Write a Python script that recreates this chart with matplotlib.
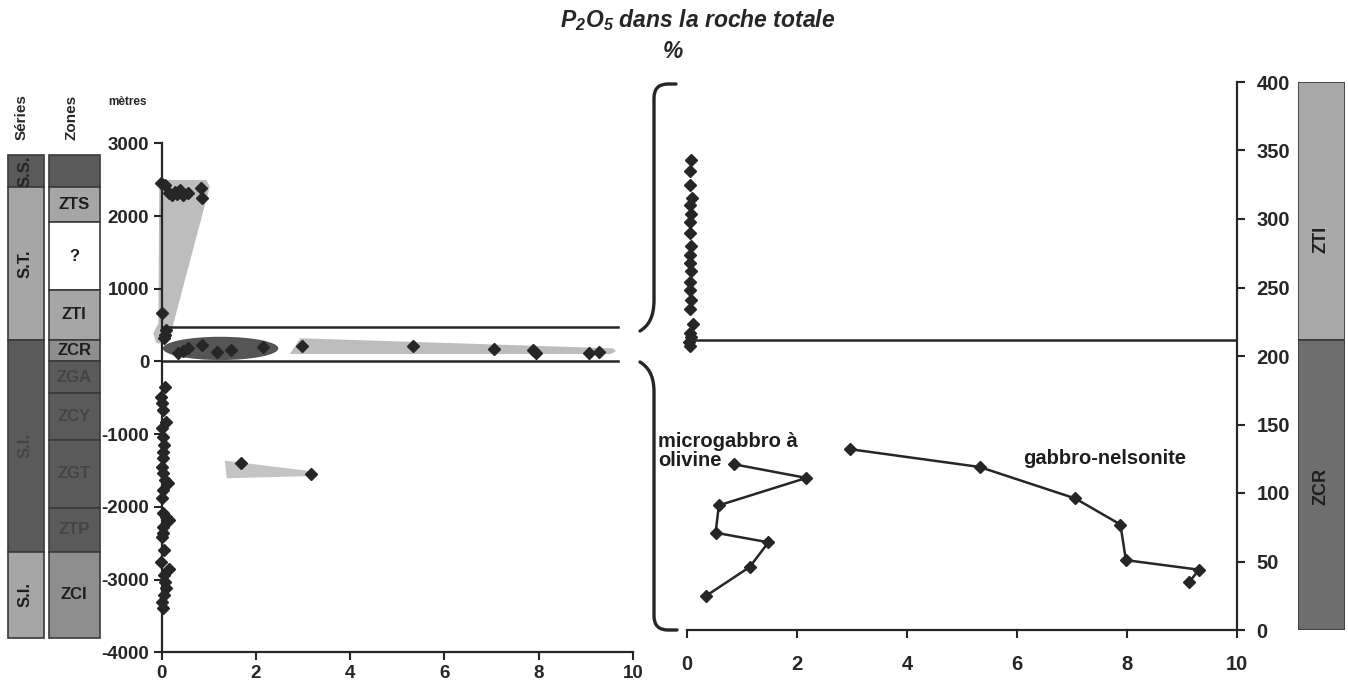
import matplotlib
matplotlib.use("Agg")
import matplotlib.pyplot as plt
from matplotlib.patches import Polygon, Ellipse, Rectangle, PathPatch
from matplotlib.path import Path
from matplotlib.transforms import Affine2D

plt.rcParams['font.family'] = ['Liberation Sans', 'DejaVu Sans']
plt.rcParams['axes.unicode_minus'] = False
plt.rcParams['mathtext.fontset'] = 'custom'
plt.rcParams['mathtext.rm'] = 'Liberation Sans:bold:italic'
plt.rcParams['mathtext.it'] = 'Liberation Sans:bold:italic'

W, H = 1348, 682
INK = '#262626'
SHADES = {'dark': '#5a5a5a', 'light': '#a6a6a6', 'mid': '#8e8e8e', 'white': 'white'}

# --- stratigraphic columns (metres) ---
series_names = ['S.S.', 'S.T.', 'S.I.', 'S.I.']
series_top = [2840, 2400, 300, -2615]
series_base = [2400, 300, -2615, -3800]
series_shade = ['dark', 'light', 'dark', 'light']

zone_names = ['', 'ZTS', '?', 'ZTI', 'ZCR', 'ZGA', 'ZCY', 'ZGT', 'ZTP', 'ZCI']
zone_top = [2840, 2400, 1920, 980, 300, 0, -430, -1080, -2010, -2615]
zone_base = [2400, 1920, 980, 300, 0, -430, -1080, -2010, -2615, -3800]
zone_shade = ['dark', 'light', 'white', 'light', 'mid', 'dark', 'dark', 'dark', 'dark', 'mid']

# --- whole section: P2O5 (%) vs height (m) ---
st_x = [-0.02, 0.07, 0.21, 0.28, 0.39, 0.46, 0.56, 0.83, 0.85, 0.15, 0.33, 0.0, 0.09, 0.04, 0.06]
st_y = [2450, 2430, 2290, 2335, 2360, 2290, 2315, 2380, 2245, 2320, 2300, 663, 433, 319, 364]

micro_left_x = [0.35, 0.56, 0.85, 1.17, 1.48, 2.15, 0.45]
micro_left_y = [113, 182, 227, 135, 158, 204, 150]

gabbro_left_x = [2.97, 5.33, 7.05, 7.87, 7.94, 9.07, 9.27]
gabbro_left_y = [213, 213, 172, 158, 121, 113, 135]

si_x = [0.07, -0.02, 0.0, 0.03, 0.1, 0.0, 0.03, 0.04, 0.02, 0.03, 0.0, 0.03,
        0.07, 0.14, 0.03, 0.0, 0.03, 0.1, 0.16, 0.03, 0.02, 0.0, 0.04, -0.01,
        0.16, 0.04, 0.07, 0.1, 0.04, 0.0, 0.03]
si_y = [-346, -484, -575, -667, -828, -919, -1034, -1149, -1241, -1332, -1447, -1538,
        -1630, -1676, -1768, -1882, -2088, -2135, -2180, -2272, -2363, -2410, -2593, -2754,
        -2859, -2937, -3029, -3120, -3212, -3304, -3395]

zgt_x = [1.68, 3.16]
zgt_y = [-1392, -1547]

# --- detail of ZCR / ZTI (0-400 m) ---
zti_x = [0.08, 0.05, 0.06, 0.09, 0.05, 0.08, 0.06, 0.05, 0.08, 0.06, 0.05,
         0.07, 0.06, 0.05, 0.07, 0.06, 0.1, 0.05, 0.08, 0.04, 0.06]
zti_y = [343, 335, 325, 315, 310, 304, 298, 290, 280, 274, 268,
         262, 254, 248, 241, 234, 223, 217, 214, 210, 207]

micro_x = [0.85, 2.17, 0.58, 0.52, 1.48, 1.14, 0.35]
micro_y = [121, 111, 91, 71, 64, 46, 25]

gabbro_x = [2.96, 5.32, 7.06, 7.88, 7.98, 9.31, 9.13]
gabbro_y = [132, 119, 96, 77, 51, 44, 35]

detail_names = ['ZTI', 'ZCR']
detail_top = [400, 212]
detail_base = [212, 0]
detail_shade = ['#a9a9a9', '#6e6e6e']
detail_label_y = [285, 105]

ticks_pct = [0, 2, 4, 6, 8, 10]
ticks_m = [-4000, -3000, -2000, -1000, 0, 1000, 2000, 3000]
ticks_detail = [0, 50, 100, 150, 200, 250, 300, 350, 400]

fig = plt.figure(figsize=(W / 100, H / 100), dpi=100)
px = Affine2D().scale(1 / W, -1 / H).translate(0, 1) + fig.transFigure


def box(x0, y0, x1, y1):
    return [x0 / W, 1 - y1 / H, (x1 - x0) / W, (y1 - y0) / H]


def bold_ticks(ax, xt, yt, size=13.5):
    ax.set_xticks(xt, [str(t) for t in xt], fontweight='bold', fontsize=size, color=INK)
    ax.set_yticks(yt, [str(t) for t in yt], fontweight='bold', fontsize=size, color=INK)
    ax.tick_params(direction='out', length=6, width=1.5, color=INK, pad=3)


def diamonds(ax, x, y, **kw):
    ax.plot(x, y, 'D', color=INK, ms=6.5, clip_on=False, zorder=5, **kw)


def label_colour(shade):
    return '#444444' if shade == 'dark' else '#1e1e1e'


# stratigraphic columns
axC = fig.add_axes(box(0, 143.3, 161.7, 652.4))
axC.set_xlim(0, 161.7)
axC.set_ylim(-4000, 3000)
axC.axis('off')
for name, top, base, shade in zip(series_names, series_top, series_base, series_shade):
    axC.add_patch(Rectangle((7.5, base), 36.5, top - base, fc=SHADES[shade], ec='#3a3a3a', lw=1.2))
    colour = '#262626' if top > 2500 else label_colour(shade)
    axC.text(25.5, (top + base) / 2, name, rotation=90, ha='center', va='center',
             fontsize=12, fontweight='bold', color=colour)
for name, top, base, shade in zip(zone_names, zone_top, zone_base, zone_shade):
    axC.add_patch(Rectangle((48.5, base), 51.5, top - base, fc=SHADES[shade], ec='#3a3a3a', lw=1.2))
    axC.text(74, (top + base) / 2, name, ha='center', va='center',
             fontsize=12, fontweight='bold', color=label_colour(shade))

fig.text(22 / W, 1 - 117 / H, 'Séries', rotation=90, ha='center', va='center',
         fontsize=11, fontweight='bold', color=INK)
fig.text(72 / W, 1 - 117 / H, 'Zones', rotation=90, ha='center', va='center',
         fontsize=11, fontweight='bold', color=INK)
fig.text(127 / W, 1 - 102 / H, 'mètres', ha='center', va='center',
         fontsize=8.5, fontweight='bold', color=INK)

# whole section profile
axL = fig.add_axes(box(161.7, 143.3, 633, 652.4))
axL.set_xlim(0, 10)
axL.set_ylim(-4000, 3000)
for s in ['top', 'right']:
    axL.spines[s].set_visible(False)
for s in ['left', 'bottom']:
    axL.spines[s].set_linewidth(1.6)
    axL.spines[s].set_color(INK)
bold_ticks(axL, ticks_pct, ticks_m)

axL.add_patch(Polygon([(-0.05, 2496), (0.95, 2496), (1.02, 2404), (0.25, 525), (0.21, 388),
                       (0.11, 250), (-0.11, 250), (-0.18, 388), (-0.07, 525)],
                      closed=True, fc='#bdbdbd', ec='none', clip_on=False, zorder=1))
axL.add_patch(Ellipse((1.25, 180), 2.45, 320, fc='#555555', ec='none', zorder=1))
axL.add_patch(Polygon([(2.72, 103), (2.94, 319), (9.57, 181), (9.64, 144), (9.53, 103)],
                      closed=True, fc='#bdbdbd', ec='none', zorder=1))
axL.add_patch(Polygon([(1.34, -1364), (1.98, -1414), (3.25, -1515), (3.25, -1574), (1.38, -1606)],
                      closed=True, fc='#c4c4c4', ec='none', zorder=1))
axL.plot([0, 9.68], [470, 470], color=INK, lw=1.8, zorder=3)
axL.plot([0, 9.68], [0, 0], color=INK, lw=1.8, zorder=3)

diamonds(axL, st_x, st_y)
diamonds(axL, micro_left_x, micro_left_y)
diamonds(axL, gabbro_left_x, gabbro_left_y)
diamonds(axL, si_x, si_y)
diamonds(axL, zgt_x, zgt_y)

# detail profile of the ZTI / ZCR interval
axR = fig.add_axes(box(687, 82, 1237, 630))
axR.set_xlim(0, 10)
axR.set_ylim(0, 400)
for s in ['top', 'left']:
    axR.spines[s].set_visible(False)
for s in ['right', 'bottom']:
    axR.spines[s].set_linewidth(1.6)
    axR.spines[s].set_color(INK)
axR.yaxis.tick_right()
bold_ticks(axR, ticks_pct, ticks_detail, size=14.5)
axR.tick_params(axis='x', pad=12)
axR.tick_params(axis='y', pad=8)

axR.plot([0, 10], [212, 212], color=INK, lw=1.8, zorder=3)
diamonds(axR, zti_x, zti_y)
axR.plot(micro_x, micro_y, '-D', color=INK, lw=1.8, ms=6.5, zorder=5)
axR.plot(gabbro_x, gabbro_y, '-D', color=INK, lw=1.8, ms=6.5, zorder=5)
axR.text(-0.52, 131, 'microgabbro à\nolivine', ha='left', va='center', fontsize=14.5,
         fontweight='bold', color='#1e1e1e', linespacing=1.0, clip_on=False)
axR.text(7.6, 125, 'gabbro-nelsonite', ha='center', va='center', fontsize=14.5,
         fontweight='bold', color='#1e1e1e')

# detail column
axZ = fig.add_axes(box(1298, 82, 1345, 630))
axZ.set_xlim(0, 1)
axZ.set_ylim(0, 400)
axZ.axis('off')
for name, top, base, fc, ly in zip(detail_names, detail_top, detail_base, detail_shade, detail_label_y):
    axZ.add_patch(Rectangle((0, base), 1, top - base, fc=fc, ec='#3a3a3a', lw=1.2))
    axZ.text(0.5, ly, name, rotation=90, ha='center', va='center',
             fontsize=13, fontweight='bold', color='#1e1e1e')

# braces linking the 0-470 m band to the detail
upper = Path([(676, 84), (668, 84), (654, 84), (654, 98), (654, 300),
              (654, 318), (648, 326), (640, 331)],
             [Path.MOVETO, Path.LINETO, Path.CURVE3, Path.CURVE3, Path.LINETO,
              Path.CURVE4, Path.CURVE4, Path.CURVE4])
lower = Path([(640, 362), (648, 367), (654, 375), (654, 392), (654, 616),
              (654, 630), (668, 630), (677, 630)],
             [Path.MOVETO, Path.CURVE4, Path.CURVE4, Path.CURVE4, Path.LINETO,
              Path.CURVE3, Path.CURVE3, Path.LINETO])
for p in (upper, lower):
    fig.add_artist(PathPatch(p, transform=px, fc='none', ec=INK, lw=2.4, capstyle='round'))

fig.text(698 / W, 1 - 20 / H, r'$\mathrm{P_2O_5}$ dans la roche totale', ha='center', va='center',
         fontsize=16.5, fontweight='bold', fontstyle='italic', color=INK)
fig.text(673 / W, 1 - 52 / H, '%', ha='center', va='center',
         fontsize=16.5, fontweight='bold', fontstyle='italic', color=INK)

fig.savefig('out.png', dpi=100, facecolor='white')
